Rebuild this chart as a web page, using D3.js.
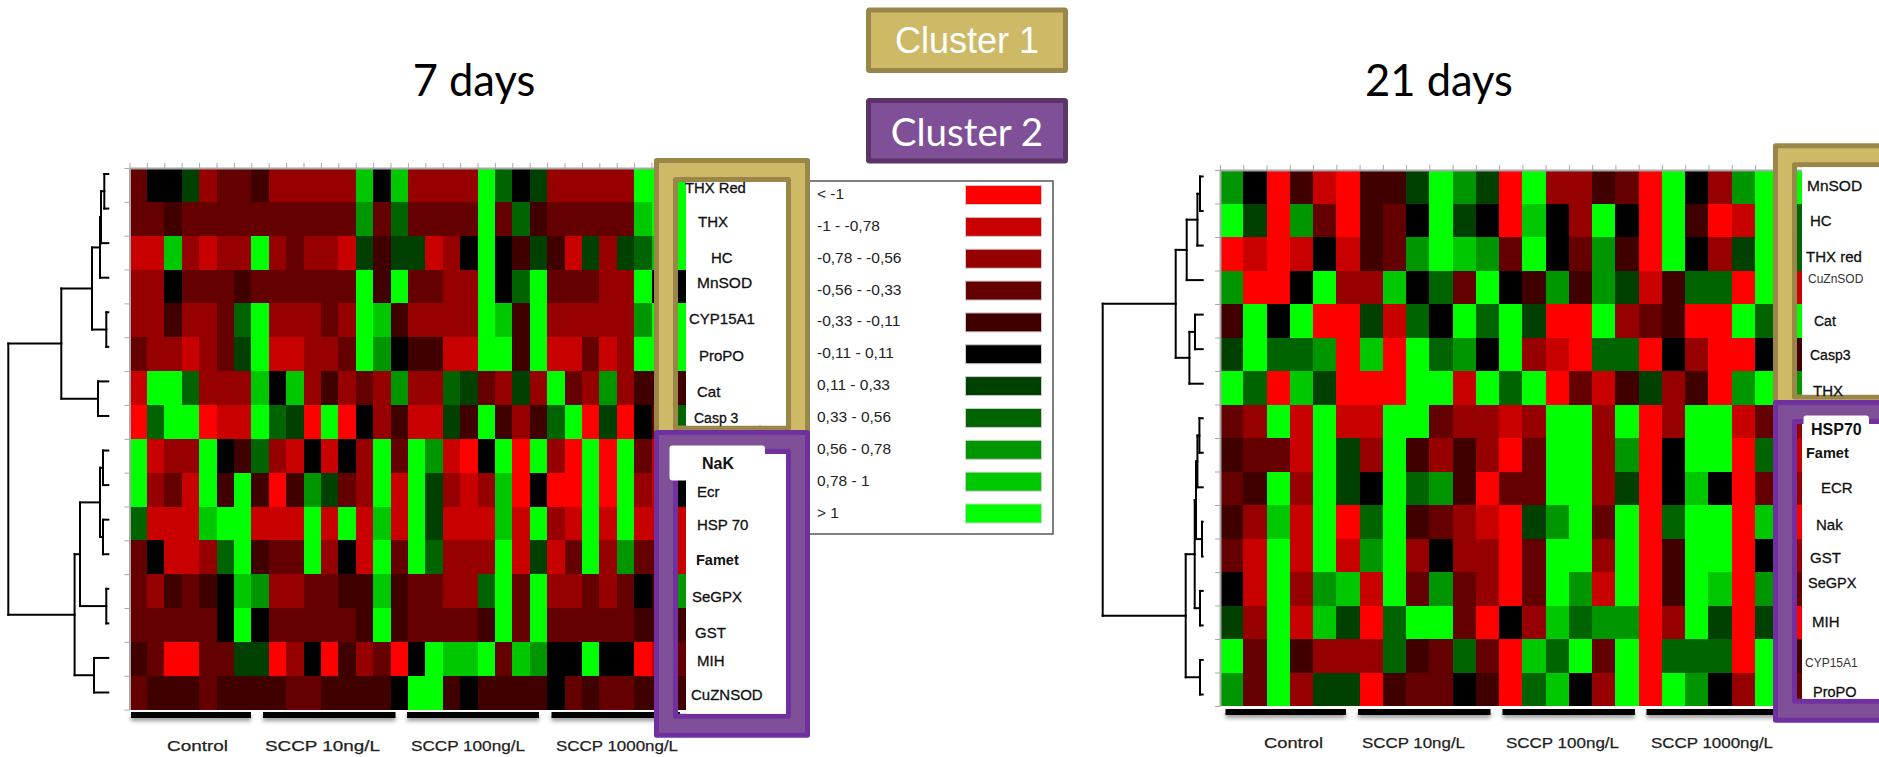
<!DOCTYPE html>
<html>
<head>
<meta charset="utf-8">
<script src="https://cdn.jsdelivr.net/npm/d3@7"></script>
<style>
  body { margin: 0; background: #fff; }
  text { font-family: "Liberation Sans", Arial, sans-serif; }
  .axis path, .axis line { stroke: #a8a8a8; }
  .axis path { stroke-width: 2px; }
</style>
</head>
<body>
<svg id="chart" width="1879" height="757"></svg>
<script>
// colour bins of the legend
let binLabels = ["< -1", "-1 - -0,78", "-0,78 - -0,56", "-0,56 - -0,33", "-0,33 - -0,11", "-0,11 - 0,11",
                 "0,11 - 0,33", "0,33 - 0,56", "0,56 - 0,78", "0,78 - 1", "> 1"];
let binColors = ["#ff0000", "#c80000", "#960000", "#640000", "#400000", "#000000",
                 "#004000", "#006400", "#009600", "#00c800", "#00ff00"];
let binThresholds = [-1, -0.78, -0.56, -0.33, -0.11, 0.11, 0.33, 0.56, 0.78, 1];
let binMidpoints = [-1.2, -0.89, -0.67, -0.45, -0.22, 0, 0.22, 0.45, 0.67, 0.89, 1.2];

let treatments = ["Control", "SCCP 10ng/L", "SCCP 100ng/L", "SCCP 1000ng/L"];

// heatmap cells as bin number, -5 (red) .. 0 (black) .. 5 (green)
let days7Rows = [
  [-2,0,0,1,-3,-2,-2,-1,-3,-3,-3,-3,-3,4,0,4,-3,-3,-3,-3,5,2,0,1,-3,-3,-3,-3,-3,5,5,5],
  [-2,-2,-1,-2,-2,-2,-2,-2,-2,-2,-2,-2,-2,3,-2,2,-2,-2,-2,-2,5,-2,2,-1,-2,-2,-2,-2,-2,4,5,5],
  [-4,-4,4,-3,-4,-3,-3,5,-3,-2,-3,-3,-4,1,-1,1,1,-4,-3,0,5,0,-1,1,-1,-4,1,-3,1,2,4,5],
  [-3,-3,0,-2,-2,-2,-1,-2,-2,-2,-2,-2,-2,5,-1,5,-2,-2,-3,-3,5,0,2,5,-2,-2,-2,-3,-3,5,0,0],
  [-3,-3,-1,-3,-3,-2,2,5,-3,-3,-3,-2,-3,5,4,-1,-3,-3,-3,-3,5,4,-1,5,-3,-3,-3,-3,-3,3,5,5],
  [-2,-3,-3,-4,-3,-2,1,5,-4,-4,-3,-3,-2,5,3,0,-1,-1,-4,-4,5,5,-1,5,-4,-4,-2,-4,-3,5,5,5],
  [-4,5,5,2,-3,-3,-3,4,0,4,-3,-1,-3,-2,-3,3,-3,-3,2,1,-2,-3,1,-3,5,-2,-3,3,-3,-1,-1,-1],
  [-5,2,5,5,-5,-4,-4,5,2,1,-5,5,-5,0,-3,-1,-4,-4,1,-1,5,-1,-3,-1,2,5,-5,1,-5,0,-2,2],
  [5,-4,-3,-3,5,0,-1,2,-3,-4,0,-4,0,-3,5,-2,5,3,-4,-5,0,5,-5,5,-3,-5,5,-5,5,-2,-4,0],
  [5,-3,-2,-4,5,-1,5,-1,-5,-1,3,1,-2,-3,5,-4,5,1,-3,-4,-3,4,-5,0,-5,-5,5,-5,5,-3,-4,0],
  [2,-4,-4,-4,4,5,5,-4,-4,-4,5,-4,5,-4,4,-4,5,1,-4,-4,-4,4,-4,5,-3,-4,5,-4,5,-4,-4,-4],
  [-2,0,-4,-4,-3,2,5,-1,-2,-2,5,-3,0,-4,5,-2,5,2,-3,-3,-3,5,-4,1,-4,-2,5,-3,3,-2,-2,-4],
  [-2,-3,-1,-2,-1,0,4,3,-3,-3,-2,-2,-1,-1,4,-1,-2,-2,-3,-3,2,5,-2,5,-3,-3,-2,-3,-2,0,-1,3],
  [-2,-2,-2,-2,-2,0,5,0,-2,-2,-2,-2,-2,-1,5,-1,-2,-2,-2,-2,-1,5,-2,5,-2,-2,-2,-2,-2,-1,-1,-1],
  [-1,-2,-5,-5,-2,-2,1,1,-5,-3,0,-5,-1,-3,-2,-5,0,5,4,4,5,-2,4,3,0,0,5,0,0,-5,-4,-2],
  [-2,-1,-1,-1,-2,-1,-1,-1,-1,-2,-2,-1,-1,-1,-1,0,5,5,-1,0,-1,-1,-1,-1,0,-2,-1,-2,-2,-1,-1,-1]
];
let days21Rows = [
  [3,0,-5,-1,-4,-5,-1,-1,1,5,3,1,-5,5,-3,-3,-1,-2,-5,5,0,-3,3,5,5],
  [5,1,-5,3,-2,-5,-1,-2,0,5,1,0,-5,4,0,-3,5,0,-5,5,-1,-5,-4,5,2],
  [-5,-4,-5,-4,0,-4,-1,-2,3,5,4,3,-2,5,0,-2,3,-1,-5,5,0,-3,1,5,2],
  [3,-5,-5,0,5,-3,-3,4,0,2,-2,5,0,-1,3,-1,3,1,-4,-1,2,2,-5,5,-4],
  [-1,5,0,5,-5,-5,1,-4,2,0,5,2,5,1,-5,-5,5,-3,-2,-1,-5,-5,5,2,5],
  [1,5,2,2,3,-5,4,-5,5,2,3,0,5,-3,-4,-5,2,2,-5,0,-3,-5,-5,0,-1],
  [5,2,-5,4,1,-5,-5,-5,5,5,-4,5,2,5,-5,-2,-4,-1,1,-3,-1,-5,3,5,3],
  [-2,-3,5,-4,5,-4,-4,5,5,-2,-3,-3,-4,-3,5,5,-3,5,-5,-3,5,5,-4,-2,-3],
  [-1,-2,-2,-4,5,1,-3,5,-1,-3,-1,-3,-5,-2,5,5,-3,3,-5,0,5,5,-5,2,-4],
  [-2,-1,5,-3,5,1,0,5,2,3,-1,-5,-2,-2,5,5,-3,1,-5,0,4,0,-5,-2,-3],
  [-1,-3,4,-4,5,-5,2,5,-1,-2,-3,-4,-5,1,3,5,-2,5,-5,2,5,5,-5,4,-5],
  [-2,-4,5,-4,5,-4,3,5,-3,0,-3,-3,-5,-2,5,5,-3,5,-5,-1,5,5,-5,0,-3],
  [0,-4,5,-3,3,4,-4,5,-2,3,-2,-3,-5,-2,5,3,-4,5,-5,-1,5,4,-5,3,-2],
  [1,-3,5,-4,4,1,-5,2,5,5,-2,-5,0,-3,4,2,3,3,-5,-3,5,1,-5,1,-5],
  [5,-2,5,-1,-3,-3,-3,2,-1,-2,2,-2,-5,4,2,5,-2,5,-5,2,2,2,-5,5,-1],
  [3,-2,5,-3,1,1,-5,-1,-2,-2,0,-1,-5,2,4,0,-3,5,-5,5,3,0,-3,5,-2]
];

// dendrogram merges, leaf number or [left, right, distance]
let days7Tree = [[[[[[0, 1, 0.04], 2, 0.073], 3, 0.083], [4, 5, 0.02], 0.163], [6, 7, 0.103], 0.47],
                 [[[[8, 9, 0.053], [10, 11, 0.053], 0.083], [12, 13, 0.02], 0.283], [14, 15, 0.143], 0.337], 1];
let days21Tree = [[[[[0, 1, 0.027], 2, 0.053], 3, 0.16], [[4, 5, 0.077], 6, 0.133], 0.27],
                  [[[[[7, 8, 0.033], 9, 0.053], [10, 11, 0.007], 0.067], [12, 13, 0.027], 0.08], [14, 15, 0.027], 0.17], 1];

// gene labels: name, x, y, size, weight
let days7Cluster1 = [["THX Red", 685, 188, 14.8, 400], ["THX", 698, 221, 15, 400], ["HC", 711, 257, 15, 400],
                     ["MnSOD", 697, 282, 15.5, 400], ["CYP15A1", 689, 318, 15, 400], ["ProPO", 699, 355, 15, 400],
                     ["Cat", 697, 391, 15, 400], ["Casp 3", 694, 418, 14, 400]];
let days7Cluster2 = [["NaK", 702, 463, 16, 700], ["Ecr", 697, 491, 15, 400], ["HSP 70", 697, 524, 15, 400],
                     ["Famet", 696, 560, 14.5, 700], ["SeGPX", 692, 596, 15, 400], ["GST", 695, 632, 15, 400],
                     ["MIH", 697, 660, 15, 400], ["CuZNSOD", 691, 694, 15, 400]];
let days21Cluster1 = [["MnSOD", 1807, 185, 15.5, 400], ["HC", 1810, 220, 15, 400], ["THX red", 1806, 256, 15, 400],
                      ["CuZnSOD", 1808, 279, 12, 400], ["Cat", 1814, 321, 14, 400], ["Casp3", 1810, 355, 14, 400],
                      ["THX", 1813, 390, 15, 400]];
let days21Cluster2 = [["HSP70", 1811, 429, 16, 700], ["Famet", 1806, 453, 14.5, 700], ["ECR", 1821, 487, 15, 400],
                      ["Nak", 1816, 524, 15, 400], ["GST", 1810, 557, 15, 400], ["SeGPX", 1808, 583, 14.5, 400],
                      ["MIH", 1812, 621, 15, 400], ["CYP15A1", 1805, 663, 12, 400], ["ProPO", 1813, 692, 14.5, 400]];

let svg = d3.select("#chart");
let defs = svg.append("defs");
let shadow = defs.append("filter").attr("id", "barShadow")
    .attr("x", "-5%").attr("y", "-100%").attr("width", "110%").attr("height", "400%");
shadow.append("feDropShadow").attr("dx", 0).attr("dy", 3).attr("stdDeviation", 2)
    .attr("flood-color", "#000").attr("flood-opacity", 0.4);

let color = d3.scaleThreshold().domain(binThresholds).range(binColors);
let binValue = n => binMidpoints[n + 5];

function drawHeatmap(rows, box, tickCount) {
    let nCols = rows[0].length;
    let x = d3.scaleLinear().domain([0, nCols]).range([box.x, box.x + nCols * box.cellW]);
    let y = d3.scaleLinear().domain([0, rows.length]).range([box.y, box.y + rows.length * box.cellH]);

    let g = svg.append("g");
    rows.forEach(function(row, r) {
        g.selectAll(null).data(row).enter().append("rect")
            .attr("x", (d, c) => x(c))
            .attr("y", y(r))
            .attr("width", box.cellW)
            .attr("height", box.cellH)
            .attr("shape-rendering", "crispEdges")
            .attr("fill", d => color(binValue(d)));
    });

    svg.append("g").attr("class", "axis").attr("transform", `translate(0,${box.y})`)
        .call(d3.axisTop(x).tickValues(d3.range(tickCount + 1)).tickSize(5).tickFormat("").tickSizeOuter(0));
    svg.append("g").attr("class", "axis").attr("transform", `translate(${box.x},0)`)
        .call(d3.axisLeft(y).tickValues(d3.range(rows.length + 1)).tickSize(5).tickFormat("").tickSizeOuter(0));
}

function drawTree(tree, box) {
    let leafY = d3.scaleLinear().domain([0, 15]).range(box.leafRange);
    let distX = d3.scaleLinear().domain([0, 1]).range(box.xRange);
    let segs = [];
    // returns the y of the node, pushes its bracket
    function walk(node) {
        if (typeof node === "number") return { y: leafY(node), d: 0 };
        let a = walk(node[0]), b = walk(node[1]);
        segs.push([node[2], a.y, node[2], b.y]);
        segs.push([node[2], a.y, a.d, a.y]);
        segs.push([node[2], b.y, b.d, b.y]);
        return { y: (a.y + b.y) / 2, d: node[2] };
    }
    walk(tree);
    svg.append("g").selectAll("line").data(segs).enter().append("line")
        .attr("x1", d => distX(d[0])).attr("y1", d => d[1])
        .attr("x2", d => distX(d[2])).attr("y2", d => d[3])
        .attr("stroke", "#000").attr("stroke-width", 2).attr("stroke-linecap", "square");
}

function drawTreatments(bars, labels, barY, labelY) {
    svg.append("g").selectAll("rect").data(bars).enter().append("rect")
        .attr("x", d => d[0]).attr("y", barY).attr("width", d => d[1] - d[0]).attr("height", 6)
        .attr("fill", "#000").attr("filter", "url(#barShadow)");
    svg.append("g").selectAll("text").data(treatments).enter().append("text")
        .attr("x", (d, i) => labels[i][0]).attr("y", labelY)
        .attr("textLength", (d, i) => labels[i][1] - labels[i][0])
        .attr("lengthAdjust", "spacingAndGlyphs")
        .attr("font-size", 15.5).attr("fill", "#222").attr("stroke", "#222").attr("stroke-width", 0.25)
        .attr("dominant-baseline", "central")
        .text(d => d);
}

// thick frame with a see-through window, then the white panel on it
function drawFrame(f, fill, edge) {
    let inset = 21.5;
    let ix = f.x + inset, iy = f.y + inset, iw = f.w - 2 * inset, ih = f.h - 2 * inset;
    svg.append("path")
        .attr("d", `M${f.x + 2.5},${f.y + 2.5}h${f.w - 5}v${f.h - 5}h${-(f.w - 5)}z` +
                   `M${ix},${iy}h${iw}v${ih}h${-iw}z`)
        .attr("fill", fill).attr("fill-rule", "evenodd")
        .attr("stroke", edge).attr("stroke-width", 5).attr("stroke-linejoin", "round");
    svg.append("rect").attr("x", f.panelX).attr("y", iy + 2.5).attr("width", ix + iw - 2.5 - f.panelX).attr("height", ih - 5)
        .attr("fill", "#fff");
}

function drawGeneLabels(labels) {
    svg.append("g").selectAll("text").data(labels).enter().append("text")
        .attr("x", d => d[1]).attr("y", d => d[2])
        .attr("font-size", d => d[3]).attr("font-weight", d => d[4])
        .attr("dominant-baseline", "central")
        .attr("fill", d => d[3] < 13 ? "#333" : "#111")
        .attr("stroke", d => d[4] < 700 && d[3] >= 13 ? "#111" : "none").attr("stroke-width", 0.3)
        .text(d => d[0]);
}

function drawLegend() {
    svg.append("rect").attr("x", 760).attr("y", 181).attr("width", 293).attr("height", 353)
        .attr("fill", "#fff").attr("stroke", "#555").attr("stroke-width", 1.5);
    let y = d3.scalePoint().domain(binLabels).range([195, 513.5]);
    svg.append("g").selectAll("rect").data(binLabels).enter().append("rect")
        .attr("x", 965.5).attr("y", d => y(d) - 9.5).attr("width", 76).attr("height", 19)
        .attr("fill", (d, i) => binColors[i]).attr("stroke", "#ccc");
    svg.append("g").selectAll("text").data(binLabels).enter().append("text")
        .attr("x", 817).attr("y", d => y(d) - 1.5)
        .attr("font-size", 15.5).attr("fill", "#222").attr("dominant-baseline", "central")
        .text(d => d);
}

function drawClusterKey(name, y, fill, edge, font) {
    svg.append("rect").attr("x", 868.5).attr("y", y + 2.5).attr("width", 197).attr("height", 60.5).attr("rx", 1)
        .attr("fill", fill).attr("stroke", edge).attr("stroke-width", 5);
    svg.append("text").attr("x", 967).attr("y", y + 33).attr("text-anchor", "middle")
        .attr("dominant-baseline", "central").attr("fill", "#fff").attr("font-size", font[0])
        .style("font-family", font[1]).text(name);
}

// 7 days
drawHeatmap(days7Rows, { x: 129.5, y: 168, cellW: 17.4, cellH: 33.85 }, 30);
drawTree(days7Tree, { leafRange: [174, 692.5], xRange: [108.3, 8.3] });
drawTreatments([[131, 251], [263, 395.5], [407, 539], [551.5, 680]],
               [[167, 228], [265, 380], [411, 525], [556, 678]], 712, 745);

// 21 days
drawHeatmap(days21Rows, { x: 1220, y: 170, cellW: 23.26, cellH: 33.5 }, 24);
drawTree(days21Tree, { leafRange: [176.5, 694.5], xRange: [1202.7, 1102.7] });
drawTreatments([[1225.5, 1346], [1358, 1490.5], [1502.5, 1635], [1646.5, 1780]],
               [[1264, 1323], [1362, 1465], [1506, 1619], [1651, 1773]], 709, 742);

drawLegend();

// cluster frames
let gold = "#cdb966", goldEdge = "#998648", plum = "#7f4f98", plumEdge = "#7030a0";
drawFrame({ x: 654, y: 158, w: 156, h: 291.5, panelX: 686.7 }, gold, goldEdge);
drawGeneLabels(days7Cluster1);
drawFrame({ x: 654, y: 430, w: 156, h: 307.7, panelX: 686.7 }, plum, plumEdge);
svg.append("rect").attr("x", 669.5).attr("y", 445.5).attr("width", 95.5).attr("height", 35).attr("rx", 3).attr("fill", "#fff");
drawGeneLabels(days7Cluster2);

drawFrame({ x: 1773, y: 143.3, w: 156, h: 275.2, panelX: 1802.3 }, gold, goldEdge);
drawGeneLabels(days21Cluster1);
drawFrame({ x: 1773, y: 400, w: 156, h: 322.7, panelX: 1802.3 }, plum, plumEdge);
svg.append("rect").attr("x", 1803.5).attr("y", 415.5).attr("width", 65.5).attr("height", 24).attr("rx", 3).attr("fill", "#fff");
drawGeneLabels(days21Cluster2);

// titles and cluster key
svg.append("text").attr("x", 474).attr("y", 96).attr("text-anchor", "middle").attr("font-size", 43.5).style("font-family", "Lato").text("7 days");
svg.append("text").attr("x", 1439).attr("y", 96).attr("text-anchor", "middle").attr("font-size", 43.5).style("font-family", "Lato").text("21 days");
drawClusterKey("Cluster 1", 7.5, gold, goldEdge, [36, "Liberation Sans"]);
drawClusterKey("Cluster 2", 98, plum, "#5a3566", [38.5, "Lato"]);
</script>
</body>
</html>
